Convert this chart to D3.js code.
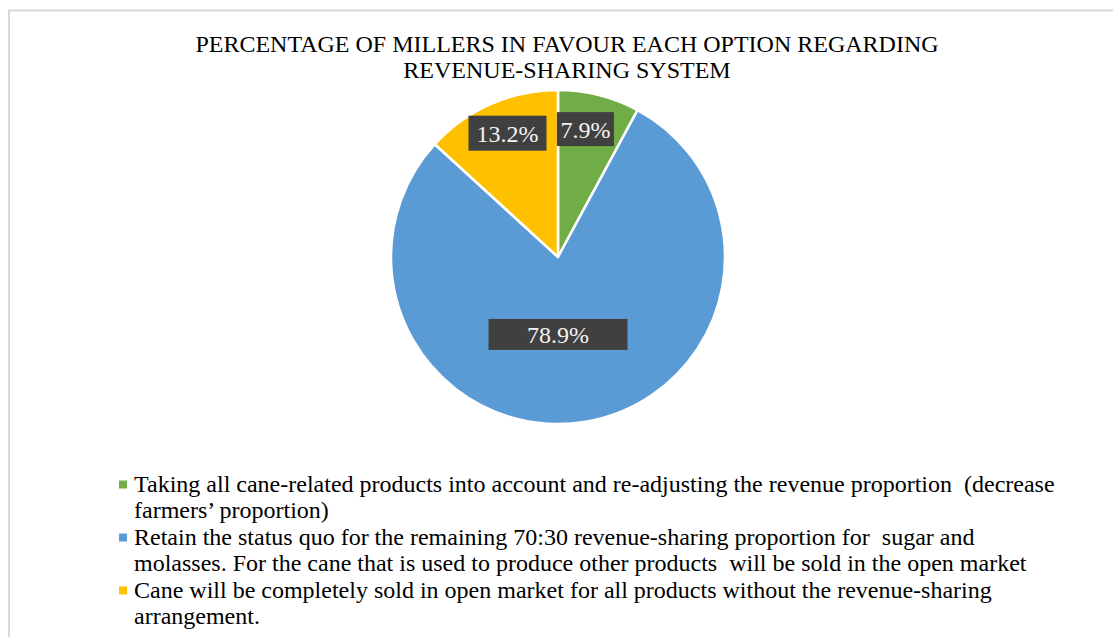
<!DOCTYPE html>
<html>
<head>
<meta charset="utf-8">
<script src="https://cdn.jsdelivr.net/npm/d3@7"></script>
<style>
  html, body { margin: 0; padding: 0; background: #fff; }
  svg { display: block; }
  text { font-family: "Liberation Serif", "Times New Roman", serif; }
</style>
</head>
<body>
<svg id="chart" width="1113" height="637"></svg>
<script>
// Survey result: share of millers in favour of each revenue-sharing option
const legendLines = [
  ["Taking all cane-related products into account and re-adjusting the revenue proportion  (decrease", "farmers\u2019 proportion)"],
  ["Retain the status quo for the remaining 70:30 revenue-sharing proportion for  sugar and", "molasses. For the cane that is used to produce other products  will be sold in the open market"],
  ["Cane will be completely sold in open market for all products without the revenue-sharing", "arrangement."]
];
const percentages = [7.9, 78.9, 13.2];
const colors = ["#70AD47", "#5B9BD5", "#FFC000"];
const titleLines = ["PERCENTAGE OF MILLERS IN FAVOUR EACH OPTION REGARDING", "REVENUE-SHARING SYSTEM"];

const svg = d3.select("#chart");

// chart frame
svg.append("rect")
  .attr("x", 9).attr("y", 10.5).attr("width", 1200).attr("height", 700)
  .attr("fill", "none").attr("stroke", "#d9d9d9").attr("stroke-width", 2);

// title
svg.append("g").selectAll("text").data(titleLines).join("text")
  .attr("x", 567).attr("y", (d, i) => 52 + i * 26)
  .attr("text-anchor", "middle")
  .attr("font-size", 24)
  .attr("fill", "#000")
  .text(d => d);

// pie
const cx = 558, cy = 257, R = 167;
const pie = d3.pie().sort(null).value(d => d);
const arcs = pie(percentages);
const arc = d3.arc().innerRadius(0).outerRadius(R);

const g = svg.append("g").attr("transform", `translate(${cx},${cy})`);
g.selectAll("path").data(arcs).join("path")
  .attr("d", arc)
  .attr("fill", (d, i) => colors[i])
  .attr("stroke", "#fff")
  .attr("stroke-width", 2.5)
  .attr("stroke-linejoin", "round");

// data labels: dark boxes with the value
const labelRadius = [0.79, 0.47, 0.81];
const labelNudge = [-5, 0, 4];
const boxWidth = [57, 139, 78];
const boxHeight = [34, 31, 35];
const labels = g.selectAll("g.lbl").data(arcs).join("g").attr("class", "lbl")
  .attr("transform", (d, i) => {
    const la = d3.arc().innerRadius(R * labelRadius[i]).outerRadius(R * labelRadius[i]);
    const [x, y] = la.centroid(d);
    return `translate(${i === 1 ? 0 : x + labelNudge[i]},${y})`;
  });
labels.append("rect")
  .attr("x", (d, i) => -boxWidth[i] / 2)
  .attr("y", (d, i) => -boxHeight[i] / 2)
  .attr("width", (d, i) => boxWidth[i])
  .attr("height", (d, i) => boxHeight[i])
  .attr("fill", "#404040");
labels.append("text")
  .attr("text-anchor", "middle")
  .attr("dy", "0.35em")
  .attr("font-size", 24)
  .attr("fill", "#f2f2f2")
  .text(d => d.data.toFixed(1) + "%");

// legend
const legend = svg.append("g");
const lineH = 26.5;
legendLines.forEach((lines, i) => {
  const y0 = 491.5 + i * 2 * lineH;
  legend.append("rect")
    .attr("x", 119).attr("y", y0 - 11).attr("width", 8).attr("height", 8)
    .attr("fill", colors[i]);
  legend.append("text")
    .attr("font-size", 24)
    .attr("fill", "#000")
    .attr("xml:space", "preserve")
    .selectAll("tspan").data(lines).join("tspan")
    .attr("x", 134)
    .attr("y", (d, j) => y0 + j * lineH)
    .text(d => d);
});
</script>
</body>
</html>
